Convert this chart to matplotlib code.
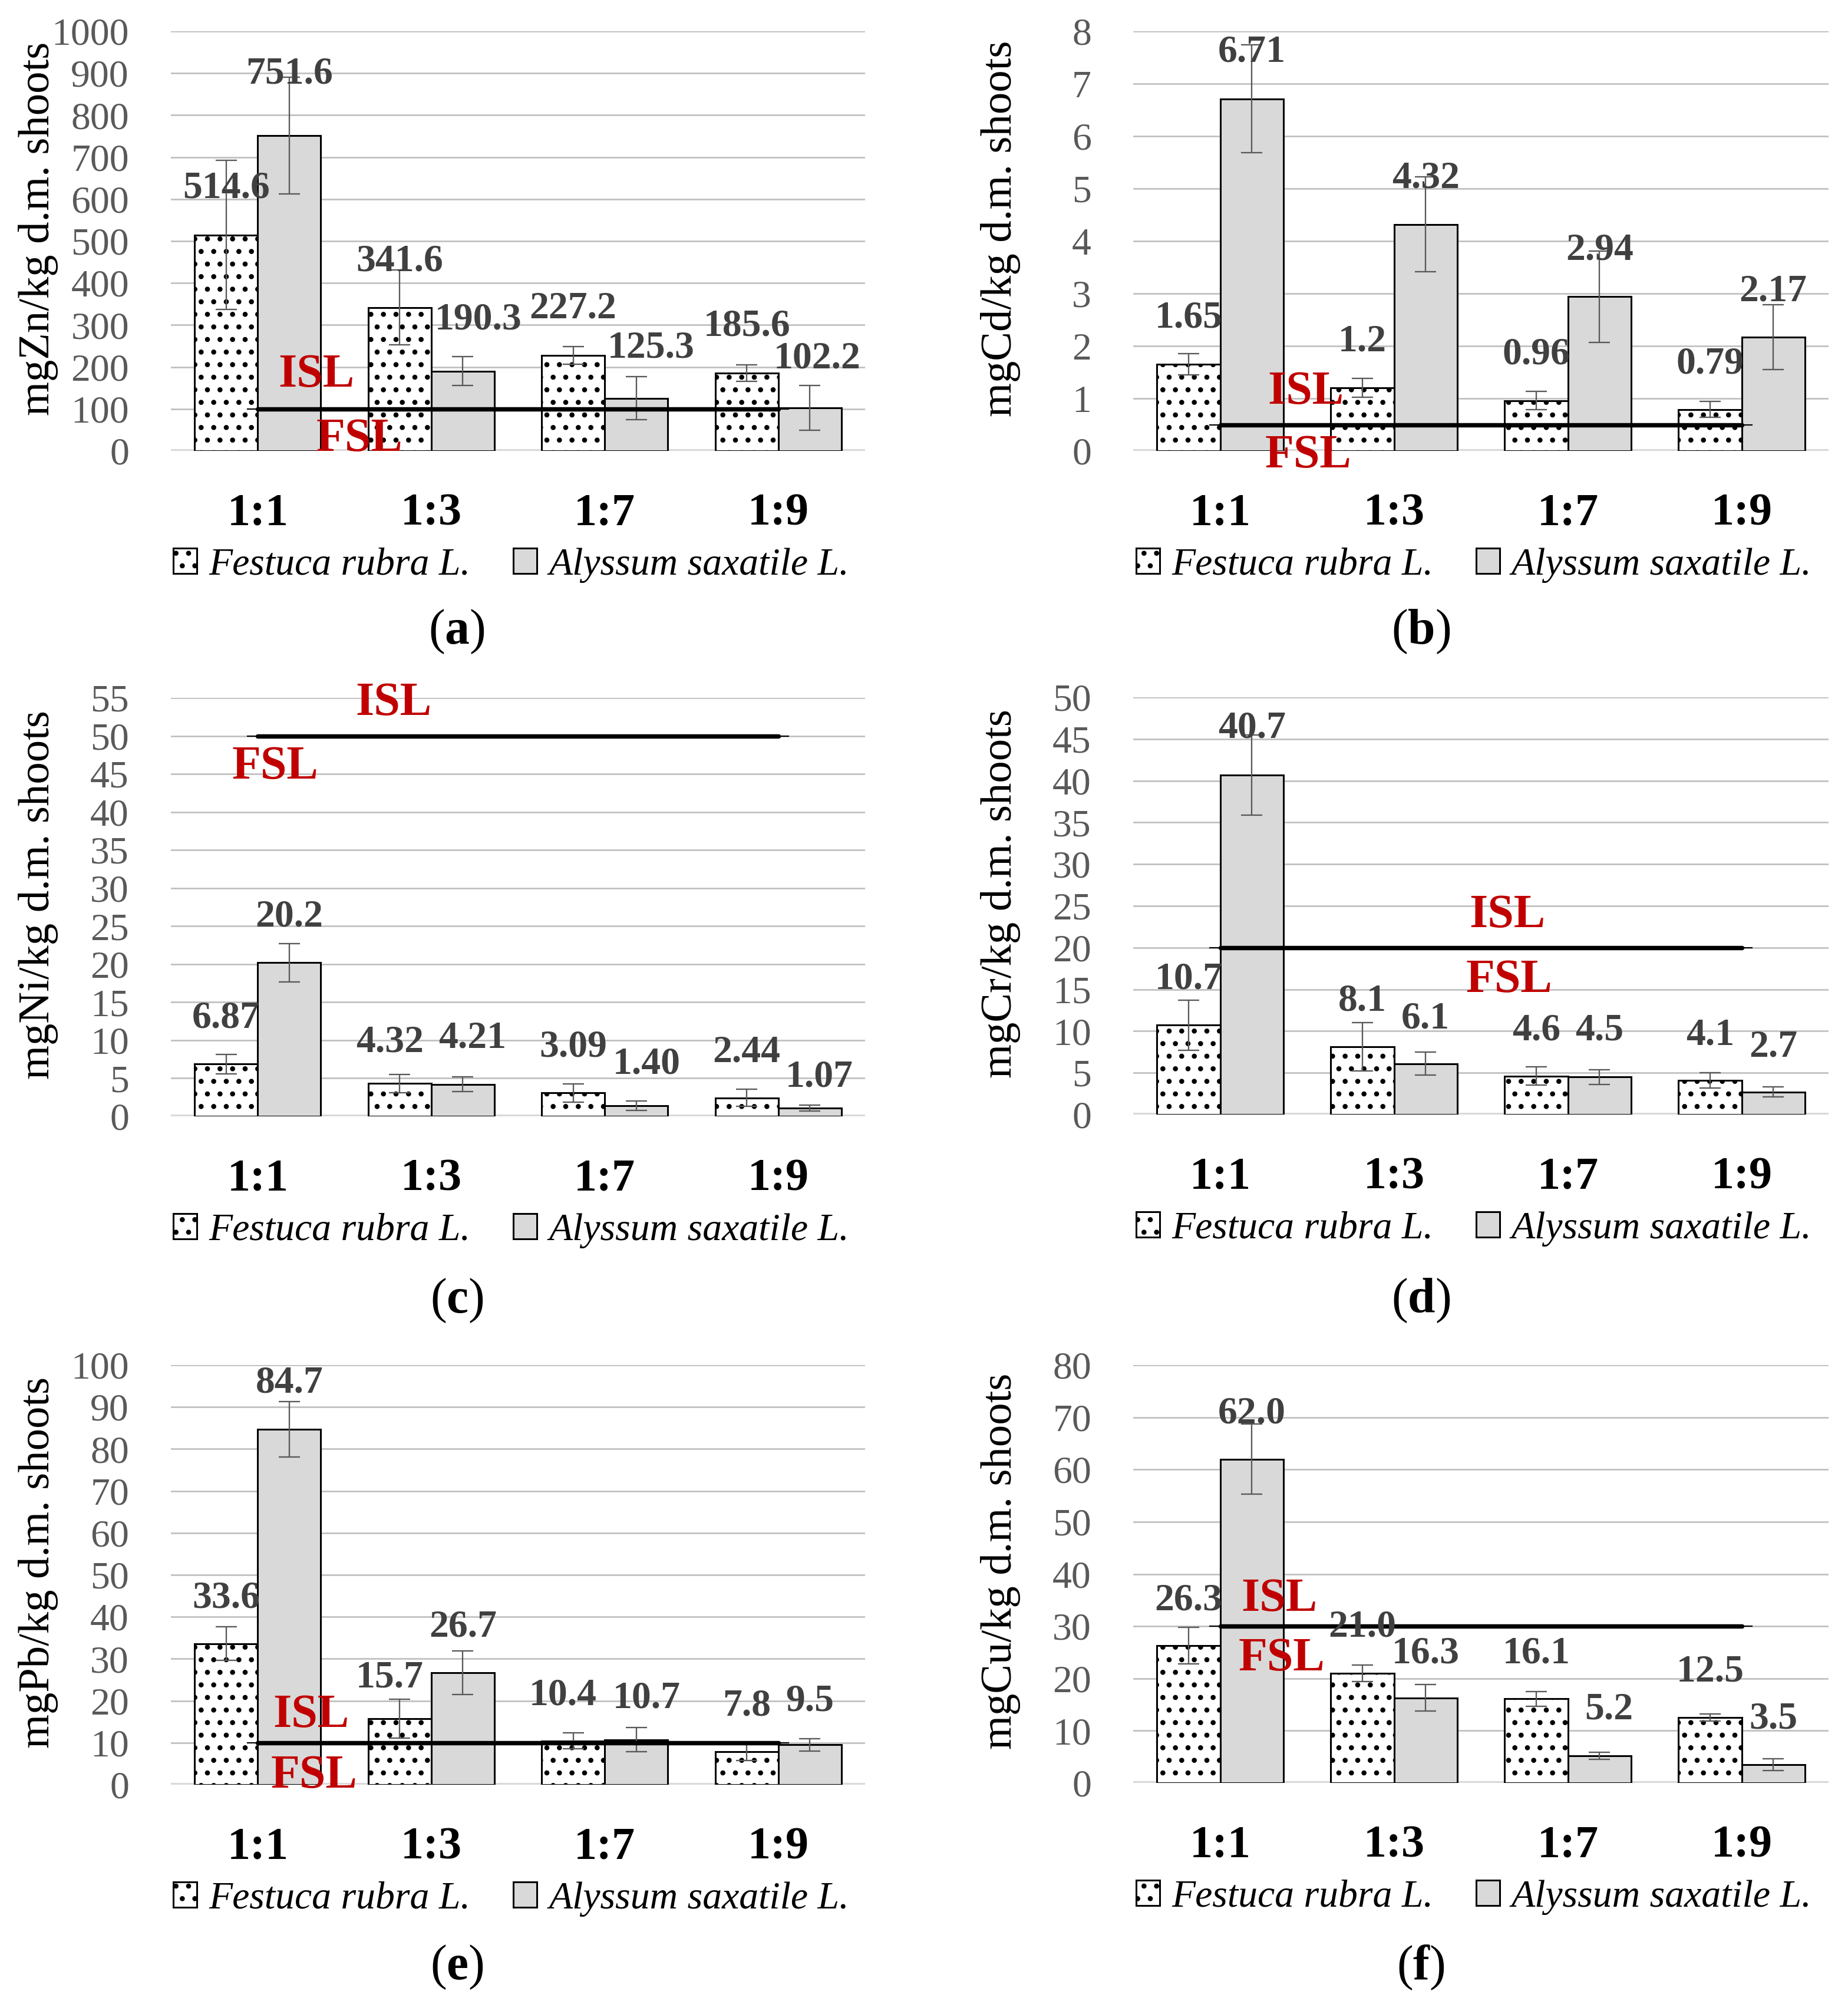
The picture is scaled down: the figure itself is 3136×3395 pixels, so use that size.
import matplotlib
matplotlib.use('Agg')
import matplotlib.pyplot as plt
import numpy as np

plt.rcParams['font.family'] = ['Liberation Serif', 'DejaVu Serif']
plt.rcParams['hatch.linewidth'] = 2.4
plt.rcParams['hatch.color'] = 'black'
plt.rcParams['mathtext.fontset'] = 'custom'
plt.rcParams['mathtext.rm'] = 'Liberation Serif'
plt.rcParams['mathtext.bf'] = 'Liberation Serif:bold'

# ---------------- data ----------------
categories = ['1:1', '1:3', '1:7', '1:9']
series_names = ['Festuca rubra L.', 'Alyssum saxatile L.']

zn_festuca = [514.6, 341.6, 227.2, 185.6]
zn_festuca_err = [178, 89, 21, 20]
zn_alyssum = [751.6, 190.3, 125.3, 102.2]
zn_alyssum_err = [139, 34, 51, 53]
zn_limit = 100
zn_festuca_lbl = ['514.6', '341.6', '227.2', '185.6']
zn_alyssum_lbl = ['751.6', '190.3', '125.3', '102.2']

cd_festuca = [1.65, 1.2, 0.96, 0.79]
cd_festuca_err = [0.20, 0.18, 0.17, 0.15]
cd_alyssum = [6.71, 4.32, 2.94, 2.17]
cd_alyssum_err = [1.03, 0.90, 0.87, 0.62]
cd_limit = 0.5
cd_festuca_lbl = ['1.65', '1.2', '0.96', '0.79']
cd_alyssum_lbl = ['6.71', '4.32', '2.94', '2.17']

ni_festuca = [6.87, 4.32, 3.09, 2.44]
ni_festuca_err = [1.3, 1.2, 1.2, 1.1]
ni_alyssum = [20.2, 4.21, 1.40, 1.07]
ni_alyssum_err = [2.5, 0.95, 0.6, 0.4]
ni_limit = 50
ni_festuca_lbl = ['6.87', '4.32', '3.09', '2.44']
ni_alyssum_lbl = ['20.2', '4.21', '1.40', '1.07']

cr_festuca = [10.7, 8.1, 4.6, 4.1]
cr_festuca_err = [3.0, 2.9, 1.1, 0.9]
cr_alyssum = [40.7, 6.1, 4.5, 2.7]
cr_alyssum_err = [4.8, 1.4, 0.9, 0.6]
cr_limit = 20
cr_festuca_lbl = ['10.7', '8.1', '4.6', '4.1']
cr_alyssum_lbl = ['40.7', '6.1', '4.5', '2.7']

pb_festuca = [33.6, 15.7, 10.4, 7.8]
pb_festuca_err = [4.0, 4.6, 1.9, 2.0]
pb_alyssum = [84.7, 26.7, 10.7, 9.5]
pb_alyssum_err = [6.6, 5.2, 2.9, 1.5]
pb_limit = 10
pb_festuca_lbl = ['33.6', '15.7', '10.4', '7.8']
pb_alyssum_lbl = ['84.7', '26.7', '10.7', '9.5']

cu_festuca = [26.3, 21.0, 16.1, 12.5]
cu_festuca_err = [3.5, 1.6, 1.4, 0.7]
cu_alyssum = [62.0, 16.3, 5.2, 3.5]
cu_alyssum_err = [6.7, 2.5, 0.7, 1.1]
cu_limit = 30
cu_festuca_lbl = ['26.3', '21.0', '16.1', '12.5']
cu_alyssum_lbl = ['62.0', '16.3', '5.2', '3.5']

ylabels = ['mgZn/kg d.m. shoots', 'mgCd/kg d.m. shoots', 'mgNi/kg d.m. shoots',
           'mgCr/kg d.m. shoots', 'mgPb/kg d.m. shoots', 'mgCu/kg d.m. shoots']
panel_letters = ['a', 'b', 'c', 'd', 'e', 'f']

# ---------------- layout (pixels / label placement) ----------------
W, H, DPI = 3136, 3395, 128
axes_px = [(290, 53, 1468, 765), (1923, 53, 3103, 765),
           (290, 1184, 1468, 1894), (1923, 1183, 3103, 1891),
           (290, 2316, 1468, 3028), (1923, 2316, 3103, 3025)]
ylims = [(1000, 100), (8, 1), (55, 5), (50, 5), (100, 10), (80, 10)]
panel_label_px = [(775, 1072), (2411, 1072), (775, 2207), (2411, 2207),
                  (775, 3338), (2411, 3338)]
# label y (data units) and x shift (pixels) for value labels
lab_f_y = [[626, 452, 339, 297], [2.53, 2.08, 1.84, 1.66], [12.87, 9.74, 9.11, 8.43],
           [16.2, 13.6, 10.05, 9.5], [44.4, 25.5, 21.3, 18.7], [34.9, 29.8, 24.8, 21.3]]
lab_a_y = [[898, 312, 245, 220], [7.6, 5.2, 3.83, 3.04], [26.25, 10.25, 6.83, 5.18],
           [46.3, 11.5, 10.05, 8.06], [95.7, 37.6, 20.6, 19.9], [70.7, 24.8, 14.1, 12.2]]
lab_f_dx = [[0, 0, 0, 0], [0, 0, 0, 0], [0, -17, 0, 0],
            [0, 0, 0, 0], [0, -17, -17, 0], [0, 0, 0, 0]]
lab_a_dx = [[0, 26, 25, 12], [0, 0, 0, 0], [0, 16, 17, 16],
            [0, 0, 0, 0], [0, 0, 17, 0], [0, 0, 16, 0]]
isl_pos = [(0.339, 180), (0.493, 1.12), (0.784, 54.3), (1.653, 23.8), (0.308, 16.5), (0.341, 35.2)]
fsl_pos = [(0.587, 27), (0.507, -0.10), (0.101, 45.9), (1.663, 16.1), (0.325, 2.1), (0.354, 23.8)]

panels = [
    (zn_festuca, zn_festuca_err, zn_alyssum, zn_alyssum_err, zn_limit, zn_festuca_lbl, zn_alyssum_lbl),
    (cd_festuca, cd_festuca_err, cd_alyssum, cd_alyssum_err, cd_limit, cd_festuca_lbl, cd_alyssum_lbl),
    (ni_festuca, ni_festuca_err, ni_alyssum, ni_alyssum_err, ni_limit, ni_festuca_lbl, ni_alyssum_lbl),
    (cr_festuca, cr_festuca_err, cr_alyssum, cr_alyssum_err, cr_limit, cr_festuca_lbl, cr_alyssum_lbl),
    (pb_festuca, pb_festuca_err, pb_alyssum, pb_alyssum_err, pb_limit, pb_festuca_lbl, pb_alyssum_lbl),
    (cu_festuca, cu_festuca_err, cu_alyssum, cu_alyssum_err, cu_limit, cu_festuca_lbl, cu_alyssum_lbl),
]

fig = plt.figure(figsize=(W / DPI, H / DPI), dpi=DPI)
fig.patch.set_facecolor('white')

bw = 0.364
x = np.arange(len(categories))
GRID = '#BFBFBF'
TICK = '#595959'
LABEL = '#404040'
RED = '#C00000'

for i, (fv, fe, av, ae, lim, flbl, albl) in enumerate(panels):
    x0, y0, x1, y1 = axes_px[i]
    ax = fig.add_axes([x0 / W, 1 - y1 / H, (x1 - x0) / W, (y1 - y0) / H])
    ymax, step = ylims[i]
    ax.set_ylim(0, ymax)
    ax.set_xlim(-0.5, len(categories) - 0.5)
    ax.set_yticks(np.arange(0, ymax + step / 2, step))
    ax.yaxis.grid(True, color=GRID, linewidth=1.5, zorder=0)
    ax.set_axisbelow(True)
    for s in ax.spines.values():
        s.set_visible(False)
    ax.axhline(0, color='#D9D9D9', linewidth=4, zorder=1)
    ax.tick_params(axis='y', length=0, pad=40, labelsize=37, labelcolor=TICK)
    ax.set_xticks([])

    b1 = ax.bar(x - bw / 2, fv, bw, color='white', edgecolor='black', hatch='.',
                linewidth=1.7, zorder=2, label=series_names[0])
    b2 = ax.bar(x + bw / 2, av, bw, color='#D9D9D9', edgecolor='black',
                linewidth=1.7, zorder=2, label=series_names[1])
    ax.errorbar(x - bw / 2, fv, yerr=fe, fmt='none', ecolor=TICK, elinewidth=1.3,
                capsize=10.4, capthick=1.3, zorder=4)
    ax.errorbar(x + bw / 2, av, yerr=ae, fmt='none', ecolor=TICK, elinewidth=1.3,
                capsize=10.4, capthick=1.3, zorder=4)

    # limit line
    ax.plot([-0.06, len(categories) - 1 + 0.06], [lim, lim], color='black', linewidth=1.2, zorder=5)
    ax.plot([0, len(categories) - 1], [lim, lim], color='black', linewidth=4.2,
            solid_capstyle='round', zorder=5)
    ax.text(isl_pos[i][0], isl_pos[i][1], 'ISL', color=RED, fontsize=45, fontweight='bold',
            ha='center', va='center', zorder=6, clip_on=False)
    ax.text(fsl_pos[i][0], fsl_pos[i][1], 'FSL', color=RED, fontsize=45, fontweight='bold',
            ha='center', va='center', zorder=6, clip_on=False)

    # value labels
    unit_px = (x1 - x0) / len(categories)
    for j in range(len(categories)):
        ax.text(x[j] - bw / 2 + lab_f_dx[i][j] / unit_px, lab_f_y[i][j], flbl[j],
                ha='center', va='center', fontsize=37, fontweight='bold', color=LABEL,
                zorder=7, clip_on=False)
        ax.text(x[j] + bw / 2 + lab_a_dx[i][j] / unit_px, lab_a_y[i][j], albl[j],
                ha='center', va='center', fontsize=37, fontweight='bold', color=LABEL,
                zorder=7, clip_on=False)

    # category labels
    ah = y1 - y0
    for j, c in enumerate(categories):
        ax.text(x[j], -107 / ah, c, transform=ax.get_xaxis_transform(), ha='center',
                va='center', fontsize=44, fontweight='bold', color='black')

    ax.set_ylabel(ylabels[i], fontsize=42, color='black', va='center')
    ax.yaxis.set_label_coords(-225 / (x1 - x0), 0.53)

    ax.legend(handles=[b1, b2], loc='center', bbox_to_anchor=(0.49, -194 / ah), ncol=2,
              frameon=False, prop={'family': ['Liberation Serif'], 'style': 'italic', 'size': 37},
              handlelength=0.62, handleheight=0.62, handletextpad=0.3, columnspacing=1.1,
              borderaxespad=0, borderpad=0)

    px, py = panel_label_px[i]
    fig.text(px / W, 1 - py / H, r'$(\mathbf{%s})$' % panel_letters[i], fontsize=47,
             ha='center', va='center', color='black')

fig.savefig('out.png', dpi=DPI, facecolor='white')
